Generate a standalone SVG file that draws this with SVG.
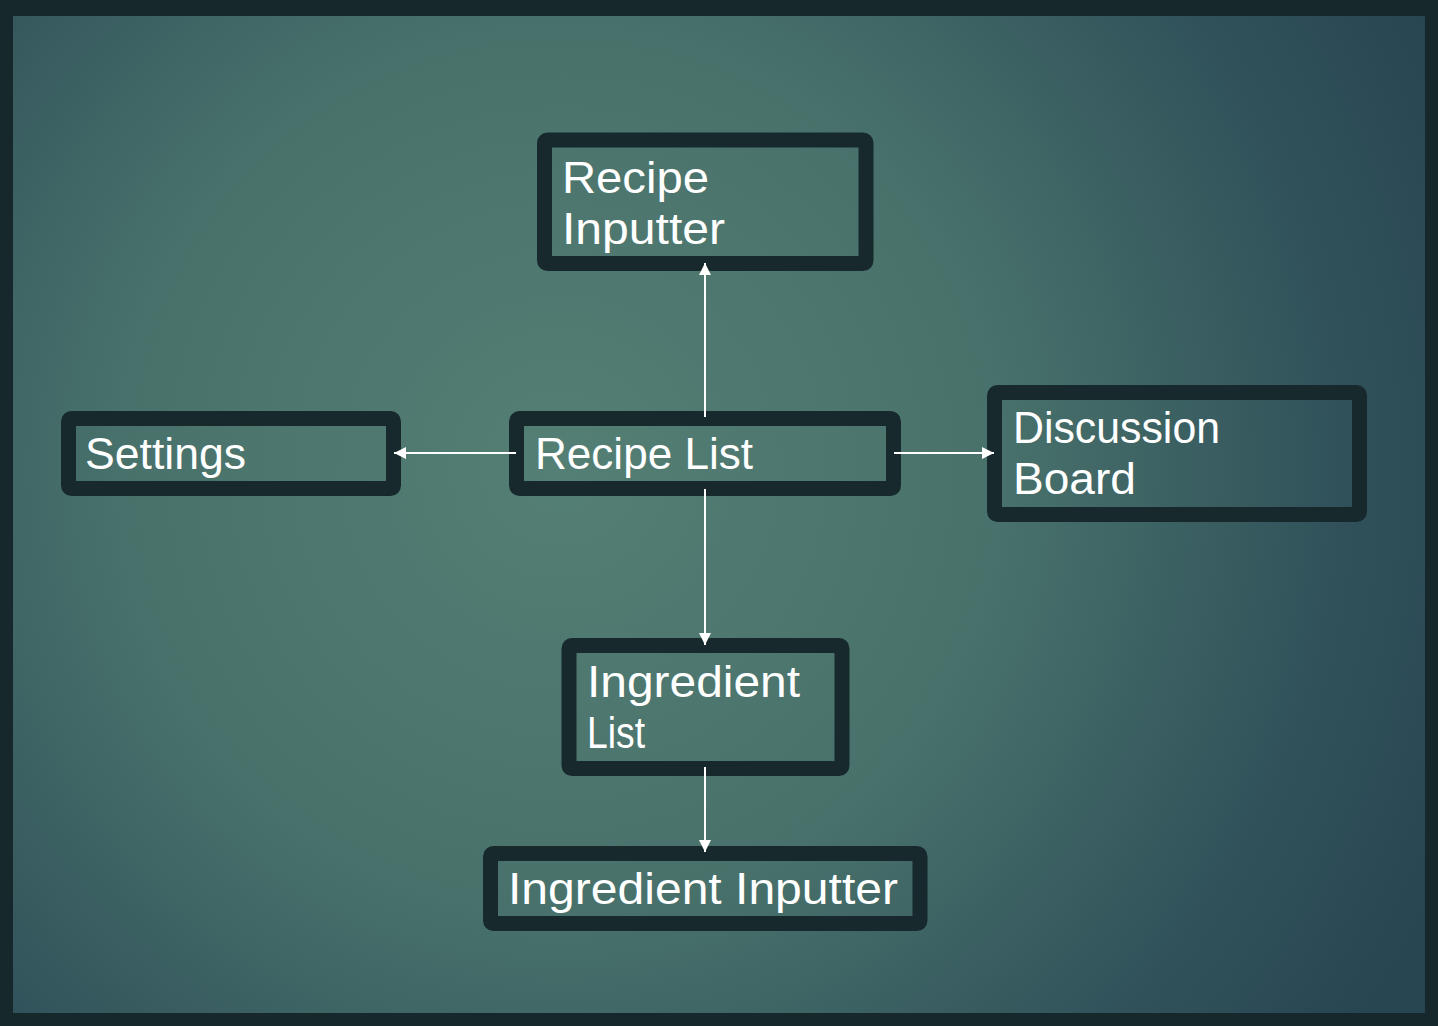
<svg xmlns="http://www.w3.org/2000/svg" width="1438" height="1026" viewBox="0 0 1438 1026">
<defs>
<radialGradient id="bg" gradientUnits="userSpaceOnUse" cx="560" cy="470" r="980">
<stop offset="0" stop-color="#547f74"/>
<stop offset="0.45" stop-color="#48716b"/>
<stop offset="0.8" stop-color="#30515a"/>
<stop offset="1" stop-color="#284552"/>
</radialGradient>
<marker id="ah" viewBox="0 0 12 12" refX="12" refY="6" markerWidth="12" markerHeight="12" markerUnits="userSpaceOnUse" orient="auto">
<path d="M0,0 L12,6 L0,12 Z" fill="#ffffff"/>
</marker>
<style>
.box{fill:none;stroke:#17292c;stroke-width:15;stroke-linejoin:round}
.lbl{font-family:"Century Gothic","URW Gothic","Liberation Sans",Arial,sans-serif;font-size:45px;fill:#ffffff}
.con{stroke:#ffffff;stroke-width:2;fill:none;marker-end:url(#ah)}
</style>
</defs>
<rect x="0" y="0" width="1438" height="1026" fill="#17282c"/>
<rect x="13" y="16" width="1412" height="997" fill="url(#bg)"/>
<g id="recipe-inputter">
<rect class="box" x="544.5" y="140" width="321.5" height="123.5" rx="3"/>
<text class="lbl" x="562" y="193" textLength="147" lengthAdjust="spacingAndGlyphs">Recipe</text>
<text class="lbl" x="562" y="244" textLength="163" lengthAdjust="spacingAndGlyphs">Inputter</text>
</g>
<g id="settings">
<rect class="box" x="68.5" y="418.5" width="325" height="70" rx="3"/>
<text class="lbl" x="85" y="469" textLength="161" lengthAdjust="spacingAndGlyphs">Settings</text>
</g>
<g id="recipe-list">
<rect class="box" x="516.5" y="418.5" width="377" height="70" rx="3"/>
<text class="lbl" x="535" y="469" textLength="218" lengthAdjust="spacingAndGlyphs">Recipe List</text>
</g>
<g id="discussion-board">
<rect class="box" x="994.5" y="392.5" width="365" height="122" rx="3"/>
<text class="lbl" x="1013" y="443" textLength="207" lengthAdjust="spacingAndGlyphs">Discussion</text>
<text class="lbl" x="1013" y="494" textLength="123" lengthAdjust="spacingAndGlyphs">Board</text>
</g>
<g id="ingredient-list">
<rect class="box" x="569" y="645.5" width="273" height="123" rx="3"/>
<text class="lbl" x="587" y="697" textLength="213" lengthAdjust="spacingAndGlyphs">Ingredient</text>
<text class="lbl" x="587" y="748" textLength="58" lengthAdjust="spacingAndGlyphs">List</text>
</g>
<g id="ingredient-inputter">
<rect class="box" x="490.5" y="853.5" width="429.5" height="70" rx="3"/>
<text class="lbl" x="508" y="904" textLength="390" lengthAdjust="spacingAndGlyphs">Ingredient Inputter</text>
</g>
<g id="connectors">
<line class="con" x1="705" y1="417" x2="705" y2="263"/>
<line class="con" x1="516" y1="453" x2="394" y2="453"/>
<line class="con" x1="894" y1="453" x2="994" y2="453"/>
<line class="con" x1="705" y1="489" x2="705" y2="645"/>
<line class="con" x1="705" y1="767" x2="705" y2="852"/>
</g>
</svg>
